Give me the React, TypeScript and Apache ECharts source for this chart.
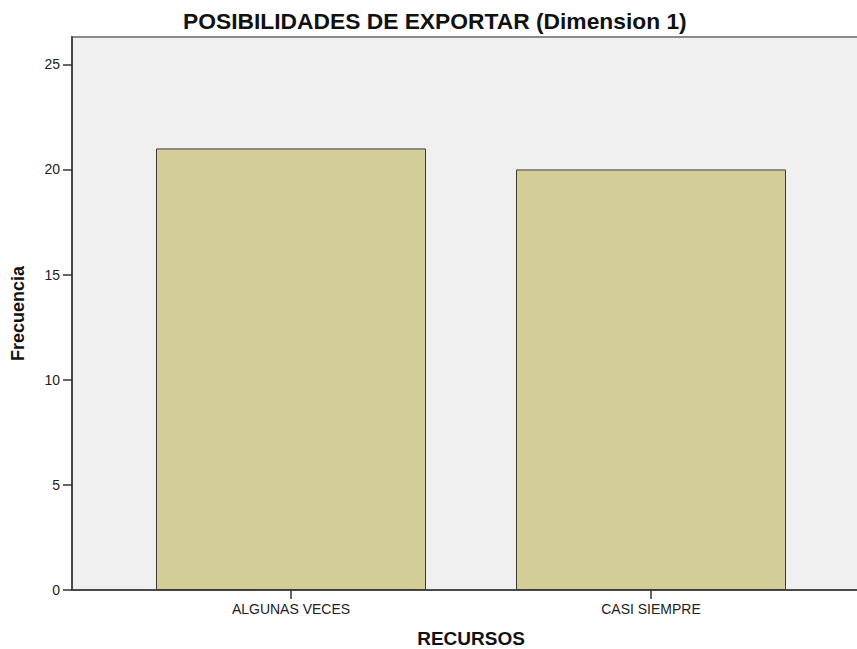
import React, { useEffect, useRef } from "react";
import * as echarts from "echarts";

const categories = ["ALGUNAS VECES", "CASI SIEMPRE"];
const frequencies = [21, 20];
const yMax = 26.3;
const yInterval = 5;

export default function App() {
  const ref = useRef<HTMLDivElement>(null);
  useEffect(() => {
    if (!ref.current) return;
    const chart = echarts.init(ref.current, undefined, { renderer: "svg" });
    const font = "Liberation Sans, Arial, sans-serif";
    chart.setOption({
      animation: false,
      backgroundColor: "#ffffff",
      textStyle: { fontFamily: font },
      title: {
        text: "POSIBILIDADES DE EXPORTAR (Dimension 1)",
        left: 183,
        top: 9,
        padding: 0,
        textStyle: { fontFamily: font, fontWeight: "bold", fontSize: 22.8, color: "#111" },
      },
      grid: [
        { left: 111, right: 26, top: 37, bottom: 59, outerBoundsMode: "none", containLabel: false },
        {
          left: 72,
          right: -10,
          top: 37,
          bottom: 59,
          outerBoundsMode: "none",
          containLabel: false,
          show: true,
          backgroundColor: "#f0f0f0",
          borderColor: "#8a8a8a",
          borderWidth: 2,
        },
      ],
      xAxis: [
        {
          type: "category",
          gridIndex: 0,
          data: categories,
          axisLine: { show: false },
          axisTick: { show: true, alignWithLabel: true, length: 9, lineStyle: { color: "#333", width: 1.5 } },
          axisLabel: { color: "#222", fontSize: 14, margin: 12, fontFamily: font },
          splitLine: { show: false },
          name: "RECURSOS",
          nameLocation: "middle",
          nameGap: 39,
          nameTextStyle: { fontFamily: font, fontWeight: "bold", fontSize: 19, lineHeight: 19, color: "#111" },
        },
        {
          type: "value",
          gridIndex: 1,
          min: 0,
          max: 1,
          axisLine: { show: true, onZero: false, lineStyle: { color: "#333", width: 1.5 } },
          axisTick: { show: false },
          axisLabel: { show: false },
          splitLine: { show: false },
        },
      ],
      yAxis: [
        {
          type: "value",
          gridIndex: 0,
          min: 0,
          max: yMax,
          interval: yInterval,
          offset: 39,
          axisLine: { show: true, lineStyle: { color: "#333", width: 1.5 } },
          axisTick: { show: true, length: 9, lineStyle: { color: "#333", width: 1.5 } },
          axisLabel: { color: "#222", fontSize: 14, margin: 12, showMaxLabel: false, fontFamily: font },
          splitLine: { show: false },
          name: "Frecuencia",
          nameLocation: "middle",
          nameGap: 45,
          nameRotate: 90,
          nameTextStyle: { fontFamily: font, fontWeight: "bold", fontSize: 18, color: "#111" },
        },
        {
          type: "value",
          gridIndex: 1,
          show: false,
          min: 0,
          max: 1,
        },
      ],
      series: [
        {
          type: "bar",
          xAxisIndex: 0,
          yAxisIndex: 0,
          data: frequencies,
          barCategoryGap: "25%",
          itemStyle: { color: "#d3ce98", borderColor: "#3a3a3a", borderWidth: 1 },
        },
      ],
    });
    return () => chart.dispose();
  }, []);
  return (
    <div
      ref={ref}
      style={{ position: "fixed", left: 0, top: 0, width: 857, height: 649 }}
    />
  );
}
